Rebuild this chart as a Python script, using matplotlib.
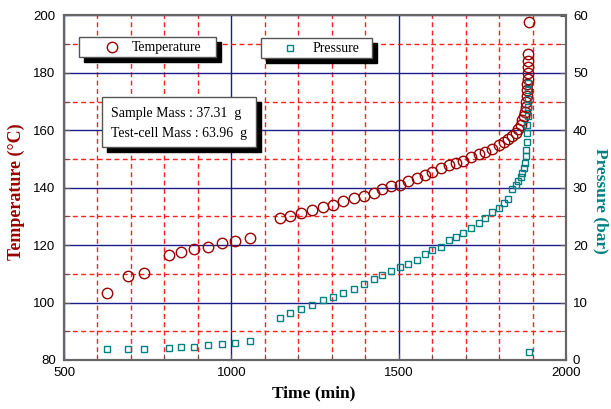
import matplotlib
matplotlib.use('Agg')
import matplotlib.pyplot as plt
from matplotlib.patches import Rectangle
from matplotlib.lines import Line2D
from matplotlib.ticker import MultipleLocator

# data
time_min = [628, 692, 738, 813, 849, 888, 929, 972, 1012, 1055,
            1144, 1176, 1208, 1240, 1273, 1304, 1334, 1367, 1397, 1425,
            1451, 1478, 1504, 1529, 1554, 1580,
            1601, 1626, 1651, 1672, 1692, 1715, 1739, 1758, 1779, 1799,
            1814, 1828, 1840, 1851, 1858, 1865, 1870, 1874, 1877, 1879,
            1881, 1882, 1883, 1884, 1885, 1886, 1886, 1887, 1887, 1888]
temperature = [103.2, 109.2, 110.2, 116.6, 117.6, 118.7, 119.5, 120.7, 121.5, 122.5,
               129.4, 130.2, 131.1, 132.2, 133.3, 134.1, 135.4, 136.3, 137.2, 138.0,
               139.6, 140.5, 141.1, 142.3, 143.3, 144.5,
               145.6, 146.8, 147.9, 148.5, 149.3, 150.8, 151.8, 152.6, 153.6, 154.8,
               155.8, 156.9, 157.9, 159.0, 160.5, 162.0, 163.5, 165.0, 166.5, 168.0,
               170.0, 172.0, 174.0, 176.0, 178.0, 180.0, 182.0, 184.0, 186.5, 197.9]
pressure = [1.9, 1.9, 1.9, 2.1, 2.3, 2.3, 2.55, 2.8, 3.0, 3.25,
            7.4, 8.1, 8.8, 9.5, 10.4, 10.9, 11.6, 12.4, 13.3, 14.1,
            14.8, 15.5, 16.2, 16.8, 17.5, 18.4,
            19.15, 19.7, 20.9, 21.4, 22.2, 23.05, 23.9, 24.7, 25.7, 26.55,
            27.3, 28.05, 29.85, 30.55, 31.2, 31.95, 32.5, 33.4, 34.3, 35.5,
            36.5, 38.0, 39.5, 41.0, 42.5, 44.0, 45.5, 47.0, 48.2, 1.4]

x_ticks = [500, 1000, 1500, 2000]
t_ticks = [80, 100, 120, 140, 160, 180, 200]
p_ticks = [0, 10, 20, 30, 40, 50, 60]

W, H = 611, 409
RED = '#990000'
TEAL = '#008080'
SERIF = 'Liberation Serif'

fig = plt.figure(figsize=(W / 100, H / 100), dpi=100)
ax1 = fig.add_axes([64 / W, 1 - 360 / H, 502 / W, 344.5 / H])
ax2 = ax1.twinx()

ax1.plot(time_min, temperature, 'o', mfc='none', mec=RED, ms=7.5, mew=1)
ax2.plot(time_min, pressure, 's', mfc='none', mec=TEAL, ms=4.5, mew=1)

ax1.set_xlim(500, 2000)
ax1.set_ylim(80, 200)
ax2.set_ylim(0, 60)
ax1.set_xticks(x_ticks)
ax1.set_yticks(t_ticks)
ax2.set_yticks(p_ticks)
ax1.xaxis.set_minor_locator(MultipleLocator(100))
ax1.yaxis.set_minor_locator(MultipleLocator(10))
ax2.yaxis.set_minor_locator(MultipleLocator(5))

ax1.grid(which='major', color='#1c1c8a', lw=1, ls='-')
ax1.grid(which='minor', color='#ff2020', lw=1, ls=(0, (3.5, 2.5)))

for ax in (ax1, ax2):
    for s in ax.spines.values():
        s.set_color('#666666')
        s.set_linewidth(1.5)
    ax.tick_params(which='both', direction='in', length=4, color='#555555')
    for lab in ax.get_xticklabels() + ax.get_yticklabels():
        lab.set_fontfamily('Liberation Sans')
        lab.set_fontsize(9.5)
ax1.tick_params(axis='y', pad=6)
ax1.tick_params(axis='x', pad=5)
ax2.tick_params(axis='y', pad=5)

fig.text(314 / W, 1 - 393 / H, 'Time (min)', ha='center', va='center',
         family=SERIF, weight='bold', fontsize=12.5)
fig.text(16 / W, 1 - 192 / H, 'Temperature (°C)', ha='center', va='center',
         rotation=90, family=SERIF, weight='bold', fontsize=13, color=RED)
fig.text(601 / W, 1 - 201 / H, 'Pressure (bar)', ha='center', va='center',
         rotation=270, family=SERIF, weight='bold', fontsize=12.5, color=TEAL)


def box(x0, y0, x1, y1, off=5):
    # pixel coordinates from the top left corner of the figure
    sh = Rectangle(((x0 + off) / W, 1 - (y1 + off) / H), (x1 - x0) / W, (y1 - y0) / H,
                   transform=fig.transFigure, fc='black', ec='black', zorder=5)
    bx = Rectangle((x0 / W, 1 - y1 / H), (x1 - x0) / W, (y1 - y0) / H,
                   transform=fig.transFigure, fc='white', ec='#555555', lw=1, zorder=6)
    fig.add_artist(sh)
    fig.add_artist(bx)


# legend boxes
box(79, 37, 216, 57)
fig.add_artist(Line2D([111.7 / W], [1 - 47 / H], marker='o', mfc='none', mec=RED,
                      ms=7.5, mew=1, transform=fig.transFigure, zorder=7))
fig.text(131.7 / W, 1 - 47 / H, 'Temperature', ha='left', va='center',
         family=SERIF, fontsize=10, zorder=7)

box(261, 38, 372, 58)
fig.add_artist(Line2D([290 / W], [1 - 48 / H], marker='s', mfc='none', mec=TEAL,
                      ms=4.5, mew=1, transform=fig.transFigure, zorder=7))
fig.text(312.3 / W, 1 - 48 / H, 'Pressure', ha='left', va='center',
         family=SERIF, fontsize=10, zorder=7)

# sample info box
box(102, 97, 256, 147, off=5)
fig.text(110.7 / W, 1 - 113 / H, 'Sample Mass : 37.31  g', ha='left', va='center',
         family=SERIF, fontsize=10, zorder=7)
fig.text(110.7 / W, 1 - 133 / H, 'Test-cell Mass : 63.96  g', ha='left', va='center',
         family=SERIF, fontsize=10, zorder=7)

fig.savefig('out.png', dpi=100)
